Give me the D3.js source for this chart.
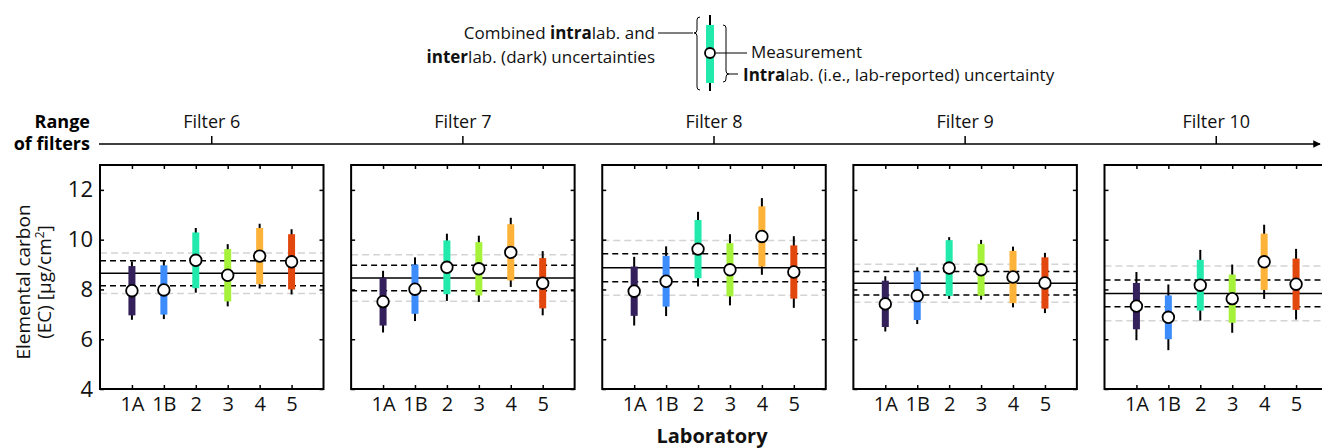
<!DOCTYPE html>
<html>
<head>
<meta charset="utf-8">
<script src="https://cdn.jsdelivr.net/npm/d3@7"></script>
<style>
  body { margin: 0; background: white; }
  text { font-family: "Open Sans", sans-serif; }
</style>
</head>
<body>
<script>
// values
var filters = ["Filter 6", "Filter 7", "Filter 8", "Filter 9", "Filter 10"];
var labs = ["1A", "1B", "2", "3", "4", "5"];
var labColors = ["#34205a", "#3d8cfb", "#22e9ac", "#a6f23a", "#fdb33a", "#e2470e"];

// measured EC per filter (rows) and lab (columns)
var measured = [
  [7.95, 7.98, 9.17, 8.57, 9.34, 9.11],
  [7.51, 8.01, 8.89, 8.83, 9.49, 8.25],
  [7.93, 8.33, 9.62, 8.79, 10.13, 8.70],
  [7.42, 7.75, 8.86, 8.79, 8.50, 8.26],
  [7.33, 6.88, 8.17, 7.63, 9.11, 8.21]
];
// intralab (lab-reported) half-widths
var intraUnc = [
  [0.99, 0.99, 1.12, 1.05, 1.13, 1.11],
  [0.96, 0.99, 1.08, 1.07, 1.13, 1.01],
  [0.99, 1.02, 1.17, 1.07, 1.21, 1.07],
  [0.93, 0.98, 1.12, 1.04, 1.05, 1.03],
  [0.93, 0.88, 1.02, 0.97, 1.13, 1.03]
];
// combined intra + interlab half-widths
var combinedUnc = [
  [1.17, 1.17, 1.30, 1.25, 1.30, 1.31],
  [1.24, 1.28, 1.35, 1.33, 1.39, 1.29],
  [1.38, 1.40, 1.50, 1.43, 1.54, 1.44],
  [1.11, 1.14, 1.24, 1.20, 1.22, 1.21],
  [1.37, 1.32, 1.42, 1.37, 1.49, 1.42]
];
// consensus value and the two bands around it
var consensus = [8.65, 8.46, 8.87, 8.25, 7.84];
var interUnc = [0.50, 0.51, 0.56, 0.475, 0.535];
var outerUnc = [0.81, 0.93, 1.10, 0.76, 1.10];
var yTicks = [4, 6, 8, 10, 12];

var W = 1322, H = 448;
var plotTop = 165, plotBottom = 389;

var svg = d3.select("body")
  .append("svg")
    .attr("width", W)
    .attr("height", H);

var panel = d3.scaleBand()
  .domain(filters)
  .range([100, 1328])
  .paddingInner(0.11);

var x = d3.scaleLinear().domain([0, 7]).range([0, panel.bandwidth()]);
var y = d3.scaleLinear().domain([4, 13]).range([plotBottom, plotTop]);

// ---- range of filters axis
var rangeAxis = svg.append("g")
  .attr("transform", "translate(0,144)")
  .call(d3.axisTop(panel).tickSize(8).tickPadding(8));
rangeAxis.select(".domain").remove();
rangeAxis.selectAll(".tick line").attr("stroke-width", 1.5);
rangeAxis.selectAll("text")
  .style("font-size", "18px")
  .attr("fill", "#111");

svg.append("defs").append("marker")
  .attr("id", "arr")
  .attr("viewBox", "0 0 10 10")
  .attr("refX", 9).attr("refY", 5)
  .attr("markerWidth", 5).attr("markerHeight", 5)
  .attr("orient", "auto")
  .append("path")
  .attr("d", "M0,0L10,5L0,10z");

svg.append("line")
  .attr("x1", 99).attr("x2", 1320)
  .attr("y1", 144).attr("y2", 144)
  .attr("stroke", "black")
  .attr("stroke-width", 1.5)
  .attr("marker-end", "url(#arr)");

svg.append("text")
  .attr("x", 90).attr("y", 128)
  .attr("text-anchor", "end")
  .style("font-size", "18px").style("font-weight", "bold")
  .text("Range");
svg.append("text")
  .attr("x", 90).attr("y", 150)
  .attr("text-anchor", "end")
  .style("font-size", "18px").style("font-weight", "bold")
  .text("of filters");

// ---- panels
filters.forEach(function(f, fi) {
  var g = svg.append("g")
    .attr("transform", "translate(" + panel(f) + ",0)");
  var pw = panel.bandwidth();
  var c = consensus[fi];

  var refLines = [
    {v: c + outerUnc[fi], color: "#d4d4d4", dash: "7,4"},
    {v: c - outerUnc[fi], color: "#d4d4d4", dash: "7,4"},
    {v: c + interUnc[fi], color: "black", dash: "6,4"},
    {v: c - interUnc[fi], color: "black", dash: "6,4"},
    {v: c, color: "black", dash: null}
  ];
  g.selectAll(".ref")
    .data(refLines)
    .enter().append("line")
    .attr("x1", 0).attr("x2", pw)
    .attr("y1", function(d) { return y(d.v); })
    .attr("y2", function(d) { return y(d.v); })
    .attr("stroke", function(d) { return d.color; })
    .attr("stroke-width", 1.5)
    .attr("stroke-dasharray", function(d) { return d.dash; });

  var rows = labs.map(function(l, i) {
    return {lab: l, i: i, m: measured[fi][i], intra: intraUnc[fi][i], comb: combinedUnc[fi][i]};
  });

  g.selectAll(".whisk")
    .data(rows)
    .enter().append("line")
    .attr("x1", function(d) { return x(d.i + 1); })
    .attr("x2", function(d) { return x(d.i + 1); })
    .attr("y1", function(d) { return y(d.m + d.comb); })
    .attr("y2", function(d) { return y(d.m - d.comb); })
    .attr("stroke", "black")
    .attr("stroke-width", 2);

  g.selectAll(".bar")
    .data(rows)
    .enter().append("rect")
    .attr("x", function(d) { return x(d.i + 1) - 3.5; })
    .attr("width", 7)
    .attr("y", function(d) { return y(d.m + d.intra); })
    .attr("height", function(d) { return y(d.m - d.intra) - y(d.m + d.intra); })
    .attr("fill", function(d) { return labColors[d.i]; });

  g.selectAll(".pt")
    .data(rows)
    .enter().append("circle")
    .attr("cx", function(d) { return x(d.i + 1); })
    .attr("cy", function(d) { return y(d.m); })
    .attr("r", 5.8)
    .attr("fill", "white")
    .attr("stroke", "black")
    .attr("stroke-width", 1.8);

  // inside ticks on all four sides
  var xb = g.append("g")
    .attr("transform", "translate(0," + plotBottom + ")")
    .call(d3.axisBottom(x).tickValues([1, 2, 3, 4, 5, 6])
      .tickSize(-4).tickPadding(8)
      .tickFormat(function(d) { return labs[d - 1]; }));
  xb.selectAll("text").style("font-size", "20px").attr("fill", "#111");

  g.append("g")
    .attr("transform", "translate(0," + plotTop + ")")
    .call(d3.axisTop(x).tickValues([1, 2, 3, 4, 5, 6]).tickSize(-4).tickFormat(""));

  var yl = g.append("g")
    .call(d3.axisLeft(y).tickValues(yTicks).tickSize(-4).tickPadding(7)
      .tickFormat(fi === 0 ? d3.format("d") : ""));
  yl.selectAll("text").style("font-size", "22px").attr("fill", "#111");

  g.append("g")
    .attr("transform", "translate(" + pw + ",0)")
    .call(d3.axisRight(y).tickValues(yTicks).tickSize(-4).tickFormat(""));

  g.selectAll(".domain").remove();
  g.selectAll(".tick line").attr("stroke-width", 1.5);

  g.append("rect")
    .attr("x", 0).attr("y", plotTop)
    .attr("width", pw).attr("height", plotBottom - plotTop)
    .attr("fill", "none")
    .attr("stroke", "black")
    .attr("stroke-width", 2);
});

// ---- axis titles
var yt = svg.append("text")
  .attr("transform", "translate(0,282) rotate(-90)")
  .attr("text-anchor", "middle")
  .style("font-size", "19px")
  .attr("fill", "#111");
yt.append("tspan").attr("x", 0).attr("y", 30).text("Elemental carbon");
var l2 = yt.append("tspan").attr("x", 0).attr("y", 51).text("(EC) [μg/cm");
l2.append("tspan").attr("dy", -7).style("font-size", "12px").text("2");
l2.append("tspan").attr("dy", 7).text("]");

svg.append("text")
  .attr("x", 712).attr("y", 443)
  .attr("text-anchor", "middle")
  .style("font-size", "20px").style("font-weight", "bold")
  .attr("fill", "#111")
  .text("Laboratory");

// ---- legend
var lg = svg.append("g").attr("class", "legend");
var lx = 710, lcy = 53;
lg.append("line")
  .attr("x1", lx).attr("x2", lx).attr("y1", 15).attr("y2", 91)
  .attr("stroke", "black").attr("stroke-width", 2);
lg.append("rect")
  .attr("x", lx - 4).attr("width", 8)
  .attr("y", 25).attr("height", 58)
  .attr("fill", labColors[2]);
lg.append("circle")
  .attr("cx", lx).attr("cy", lcy).attr("r", 5)
  .attr("fill", "white").attr("stroke", "black").attr("stroke-width", 1.8);

lg.append("path")
  .attr("d", "M700,17Q697,17 697,20L697,30Q697,33 694,33Q697,33 697,36L697,87Q697,90 700,90")
  .attr("fill", "none").attr("stroke", "black").attr("stroke-width", 1);
lg.append("path")
  .attr("d", "M723,25Q726,25 726,28L726,71Q726,74 729,74Q726,74 726,77L726,79Q726,82 723,82")
  .attr("fill", "none").attr("stroke", "black").attr("stroke-width", 1);

lg.append("line").attr("x1", 658).attr("x2", 693).attr("y1", 33).attr("y2", 33)
  .attr("stroke", "black").attr("stroke-width", 1);
lg.append("line").attr("x1", lx + 6).attr("x2", 747).attr("y1", lcy).attr("y2", lcy)
  .attr("stroke", "black").attr("stroke-width", 1);
lg.append("line").attr("x1", 729).attr("x2", 738).attr("y1", 74).attr("y2", 74)
  .attr("stroke", "black").attr("stroke-width", 1);

function legendText(xp, yp, anchor, parts) {
  var t = lg.append("text")
    .attr("x", xp).attr("y", yp)
    .attr("text-anchor", anchor)
    .style("font-size", "17px")
    .attr("fill", "#111");
  parts.forEach(function(p) {
    t.append("tspan").style("font-weight", p[1] ? "bold" : "normal").text(p[0]);
  });
}
legendText(655, 39, "end", [["Combined ", false], ["intra", true], ["lab. and", false]]);
legendText(655, 63, "end", [["inter", true], ["lab. (dark) uncertainties", false]]);
legendText(751, 58, "start", [["Measurement", false]]);
legendText(743, 81, "start", [["Intra", true], ["lab. (i.e., lab-reported) uncertainty", false]]);
</script>
</body>
</html>
